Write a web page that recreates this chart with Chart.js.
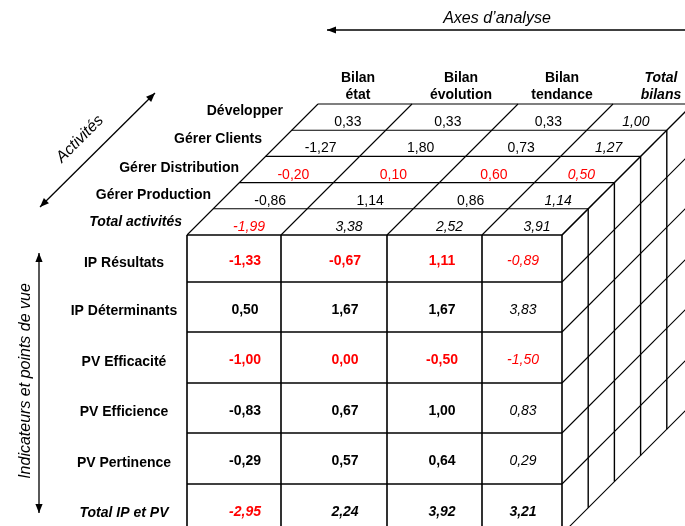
<!DOCTYPE html>
<html><head><meta charset="utf-8">
<script src="https://cdn.jsdelivr.net/npm/chart.js"></script>
<style>html,body{margin:0;padding:0;background:#fff;}#wrap{width:685px;height:526px;position:relative;}</style>
</head><body><div id="wrap"><canvas id="c" width="685" height="526"></canvas></div>
<script>
// ---------------- DATA ----------------
const analysisAxes = [['Bilan','état'], ['Bilan','évolution'], ['Bilan','tendance'], ['Total','bilans']];
const activities = ['Développer', 'Gérer Clients', 'Gérer Distribution', 'Gérer Production', 'Total activités'];
const activityValues = [
  [0.33, 0.33, 0.33, 1.00],
  [-1.27, 1.80, 0.73, 1.27],
  [-0.20, 0.10, 0.60, 0.50],
  [-0.86, 1.14, 0.86, 1.14],
  [-1.99, 3.38, 2.52, 3.91]
];
const activityAlerts = [
  [0, 0, 0, 0],
  [0, 0, 0, 0],
  [1, 1, 1, 1],
  [0, 0, 0, 0],
  [1, 0, 0, 0]
];
const indicators = ['IP Résultats', 'IP Déterminants', 'PV Efficacité', 'PV Efficience', 'PV Pertinence', 'Total IP et PV'];
const indicatorValues = [
  [-1.33, -0.67, 1.11, -0.89],
  [0.50, 1.67, 1.67, 3.83],
  [-1.00, 0.00, -0.50, -1.50],
  [-0.83, 0.67, 1.00, 0.83],
  [-0.29, 0.57, 0.64, 0.29],
  [-2.95, 2.24, 3.92, 3.21]
];
const indicatorAlerts = [
  [1, 1, 1, 1],
  [0, 0, 0, 0],
  [1, 1, 1, 1],
  [0, 0, 0, 0],
  [0, 0, 0, 0],
  [1, 0, 0, 0]
];
const titleAnalysis = 'Axes d’analyse';
const titleActivities = 'Activités';
const titleIndicators = 'Indicateurs et points de vue';

// ---------------- LAYOUT (positions / styles) ----------------
const W = 685, H = 526;
const FAMILY = '"Liberation Sans", Arial, Helvetica, sans-serif';
const L = {
  colEdges: [187, 281, 387, 482, 562],
  rowEdges: [235, 282, 332, 383, 433, 484, 534],
  depth: 26.2,
  frontTextX: [245, 345, 442, 523],
  headerX: [358, 461, 562, 661],
  headerBase: [82, 99],
  actLabelX: [283, 262, 239, 211, 182],
  actLabelBase: [115, 143, 172, 199, 226],
  topRowShift: [0, -1, -2, 1, 6],
  frontLabelX: 124
};
const RED = '#ff0000', BLACK = '#000000';
const fmt = v => v.toFixed(2).replace('.', ',');
const font = (size, bold, italic) => `${italic ? 'italic ' : ''}${bold ? 'bold ' : ''}${size}px ${FAMILY}`;

const datasets = [];
function seg(x1, y1, x2, y2, w) {
  datasets.push({ data: [{x: x1, y: y1}, {x: x2, y: y2}], showLine: true, borderColor: BLACK,
    borderWidth: w, pointRadius: 0, fill: false, tension: 0 });
}
const D = L.depth, nAct = activities.length, faceTop = L.rowEdges[0];
const faceRight = L.colEdges[L.colEdges.length - 1], faceLeft = L.colEdges[0];
const faceBottom = L.rowEdges[L.rowEdges.length - 1];

// top face
for (let k = 1; k <= nAct; k++) seg(faceLeft + k * D, faceTop - k * D, faceRight + k * D, faceTop - k * D, 1.1);
L.colEdges.forEach(x => seg(x, faceTop, x + nAct * D, faceTop - nAct * D, 1.1));
// side face
for (let k = 1; k <= nAct; k++) seg(faceRight + k * D, faceTop - k * D, faceRight + k * D, faceBottom - k * D, 1.4);
L.rowEdges.forEach(y => seg(faceRight, y, faceRight + nAct * D, y - nAct * D, 1.1));
// front face
L.rowEdges.forEach(y => seg(faceLeft, y, faceRight, y, 1.6));
L.colEdges.forEach(x => seg(x, faceTop, x, faceBottom, 1.6));

// arrows
function arrow(pts, heads) {
  datasets.push({ data: pts, showLine: true, borderColor: BLACK, borderWidth: 1.3, pointRadius: 0,
    fill: false, tension: 0, arrowHeads: heads });
}
arrow([{x: 327, y: 30}, {x: 690, y: 30}], ['start']);
arrow([{x: 40, y: 207}, {x: 155, y: 93}], ['start', 'end']);
arrow([{x: 39, y: 253}, {x: 39, y: 513}], ['start', 'end']);

// text datasets
function texts(items) {
  datasets.push({ data: items.map(t => ({x: t.x, y: t.y})), pointRadius: 0, showLine: false, cellTexts: items });
}
// headers
const hdr = [];
analysisAxes.forEach((lines, j) => {
  const isTotal = j === analysisAxes.length - 1;
  lines.forEach((s, li) => hdr.push({x: L.headerX[j], y: L.headerBase[li], text: s, font: font(14, true, isTotal), color: BLACK, align: 'center'}));
});
texts(hdr);
// activity labels and values (top face)
const act = [];
activities.forEach((name, i) => {
  const isTotal = i === nAct - 1;
  act.push({x: L.actLabelX[i], y: L.actLabelBase[i], text: name, font: font(14, true, isTotal), color: BLACK, align: 'right'});
  const k = nAct - 1 - i;
  const yb = faceTop - k * D;
  const yc = yb - 9;
  activityValues[i].forEach((v, j) => {
    const xc = (L.colEdges[j] + L.colEdges[j + 1]) / 2 + (faceTop - yc) + L.topRowShift[i];
    const italic = isTotal || j === activityValues[i].length - 1;
    act.push({x: xc, y: yc + 5, text: fmt(v), font: font(14, false, italic), color: activityAlerts[i][j] ? RED : BLACK, align: 'center'});
  });
});
texts(act);
// indicator labels and values (front face)
const ind = [];
indicators.forEach((name, r) => {
  const isTotal = r === indicators.length - 1;
  const yc = (L.rowEdges[r] + L.rowEdges[r + 1]) / 2;
  ind.push({x: L.frontLabelX, y: yc + 8, text: name, font: font(14, true, isTotal), color: BLACK, align: 'center'});
  indicatorValues[r].forEach((v, j) => {
    const lastCol = j === indicatorValues[r].length - 1;
    const italic = isTotal || lastCol;
    const bold = !(lastCol && !isTotal);
    ind.push({x: L.frontTextX[j], y: yc + 6.5, text: fmt(v), font: font(14, bold, italic), color: indicatorAlerts[r][j] ? RED : BLACK, align: 'center'});
  });
});
texts(ind);
// axis titles
texts([
  {x: 497, y: 23, text: titleAnalysis, font: font(16, false, true), color: BLACK, align: 'center'},
  {x: 80, y: 139, text: titleActivities, font: font(16, false, true), color: BLACK, align: 'center', baseline: 'middle', rotate: -Math.PI / 4},
  {x: 26, y: 381, text: titleIndicators, font: font(16, false, true), color: BLACK, align: 'center', baseline: 'middle', rotate: -Math.PI / 2}
]);

const textPlugin = {
  id: 'cubeText',
  afterDatasetsDraw(chart) {
    const ctx = chart.ctx;
    chart.data.datasets.forEach((ds, di) => {
      const pts = chart.getDatasetMeta(di).data;
      if (ds.arrowHeads) {
        ds.arrowHeads.forEach(end => {
          const tip = end === 'start' ? pts[0] : pts[pts.length - 1];
          const from = end === 'start' ? pts[1] : pts[pts.length - 2];
          const a = Math.atan2(tip.y - from.y, tip.x - from.x);
          const len = 9, hw = 3.6;
          ctx.save();
          ctx.translate(tip.x, tip.y); ctx.rotate(a);
          ctx.beginPath(); ctx.moveTo(0, 0); ctx.lineTo(-len, -hw); ctx.lineTo(-len, hw); ctx.closePath();
          ctx.fillStyle = BLACK; ctx.fill();
          ctx.restore();
        });
      }
      if (ds.cellTexts) {
        pts.forEach((p, i) => {
          const s = ds.cellTexts[i];
          ctx.save();
          ctx.translate(p.x, p.y);
          if (s.rotate) ctx.rotate(s.rotate);
          ctx.font = s.font; ctx.fillStyle = s.color;
          ctx.textAlign = s.align; ctx.textBaseline = s.baseline || 'alphabetic';
          ctx.fillText(s.text, 0, 0);
          ctx.restore();
        });
      }
    });
  }
};

new Chart(document.getElementById('c'), {
  type: 'scatter',
  data: { datasets },
  options: {
    responsive: false, animation: false, devicePixelRatio: 1, events: [],
    layout: { padding: 0 },
    plugins: { legend: { display: false }, tooltip: { enabled: false }, title: { display: false } },
    scales: {
      x: { type: 'linear', min: 0, max: W, display: false },
      y: { type: 'linear', min: 0, max: H, reverse: true, display: false }
    }
  },
  plugins: [textPlugin]
});
</script></body></html>
